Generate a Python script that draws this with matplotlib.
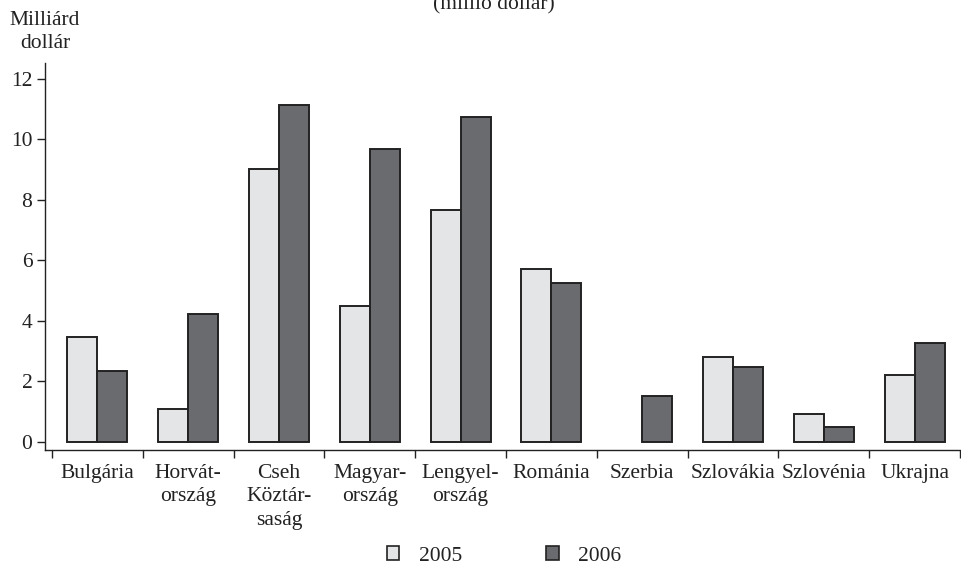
import matplotlib
matplotlib.use("Agg")
import matplotlib.pyplot as plt
import numpy as np
from matplotlib.patches import Patch

plt.rcParams['font.family'] = ['Liberation Serif', 'DejaVu Serif']

categories = ["Bulgária", "Horvát-\nország", "Cseh\nKöztár-\nsaság", "Magyar-\nország",
              "Lengyel-\nország", "Románia", "Szerbia", "Szlovákia", "Szlovénia", "Ukrajna"]
values_2005 = [3.47, 1.09, 9.02, 4.50, 7.67, 5.72, 0.0, 2.80, 0.93, 2.20]
values_2006 = [2.35, 4.23, 11.14, 9.69, 10.75, 5.26, 1.52, 2.48, 0.50, 3.27]
series_labels = ["2005", "2006"]
yticks = [0, 2, 4, 6, 8, 10, 12]

W, H = 962, 568
fig = plt.figure(figsize=(W / 100, H / 100), dpi=100)

# axes in pixel terms: y axis at x=45, right end at the figure edge
y_top_px, y_bot_px = 63, 450
ax = fig.add_axes([45 / W, 1 - y_bot_px / H, (961 - 45) / W, (y_bot_px - y_top_px) / H])

light = "#e4e5e7"
dark = "#6a6b6f"
edge = "#222222"
bw = 0.33
fs = 15.5
x = np.arange(len(categories))
v05 = np.array(values_2005)
v06 = np.array(values_2006)
# missing values (zero) are left empty instead of drawing a flat outline
m05 = v05 > 0
m06 = v06 > 0
ax.bar(x[m05] - bw / 2, v05[m05], width=bw, color=light, edgecolor=edge, linewidth=1.4, zorder=2)
ax.bar(x[m06] + bw / 2, v06[m06], width=bw, color=dark, edgecolor=edge, linewidth=1.4, zorder=2)

ax.set_ylim(-0.27, 12.53)
ax.set_xlim(-0.5 - 7 / 91, 9.5 + 1 / 91)

for s in ["top", "right"]:
    ax.spines[s].set_visible(False)
for s in ["left", "bottom"]:
    ax.spines[s].set_linewidth(1.0)
    ax.spines[s].set_color("#222222")

ax.set_yticks(yticks)
ax.set_yticklabels([str(v) for v in yticks], fontsize=fs)
ax.tick_params(axis="y", direction="out", length=6, width=1.0, pad=3, colors="#222222")

# category boundaries carry the ticks; labels sit at the centres
ax.set_xticks(np.arange(len(categories) + 1) - 0.5)
ax.set_xticklabels([])
ax.tick_params(axis="x", which="major", direction="out", length=6, width=1.0, colors="#222222")
ax.set_xticks(x, minor=True)
ax.set_xticklabels(categories, minor=True, fontsize=fs, va="top", linespacing=1.32)
ax.tick_params(axis="x", which="minor", length=0, pad=10, labelcolor="#222222")

fig.text(45 / W, 1 - 11 / H, "Milliárd\ndollár", ha="center", va="top", fontsize=fs,
         linespacing=1.32, color="#222222")
fig.text(494 / W, 1 - 9 / H, "(millió dollár)", ha="center", va="baseline", fontsize=fs,
         color="#222222")

handles = [Patch(facecolor=light, edgecolor=edge, linewidth=1.2),
           Patch(facecolor=dark, edgecolor=edge, linewidth=1.2)]
fig.legend(handles, series_labels, loc="center", bbox_to_anchor=(504 / W, 1 - 556 / H),
           ncol=2, frameon=False, fontsize=fs, handlelength=0.6, handleheight=0.6,
           handletextpad=0.9, columnspacing=3.9, labelcolor="#222222")

fig.savefig("out.png", dpi=100)
